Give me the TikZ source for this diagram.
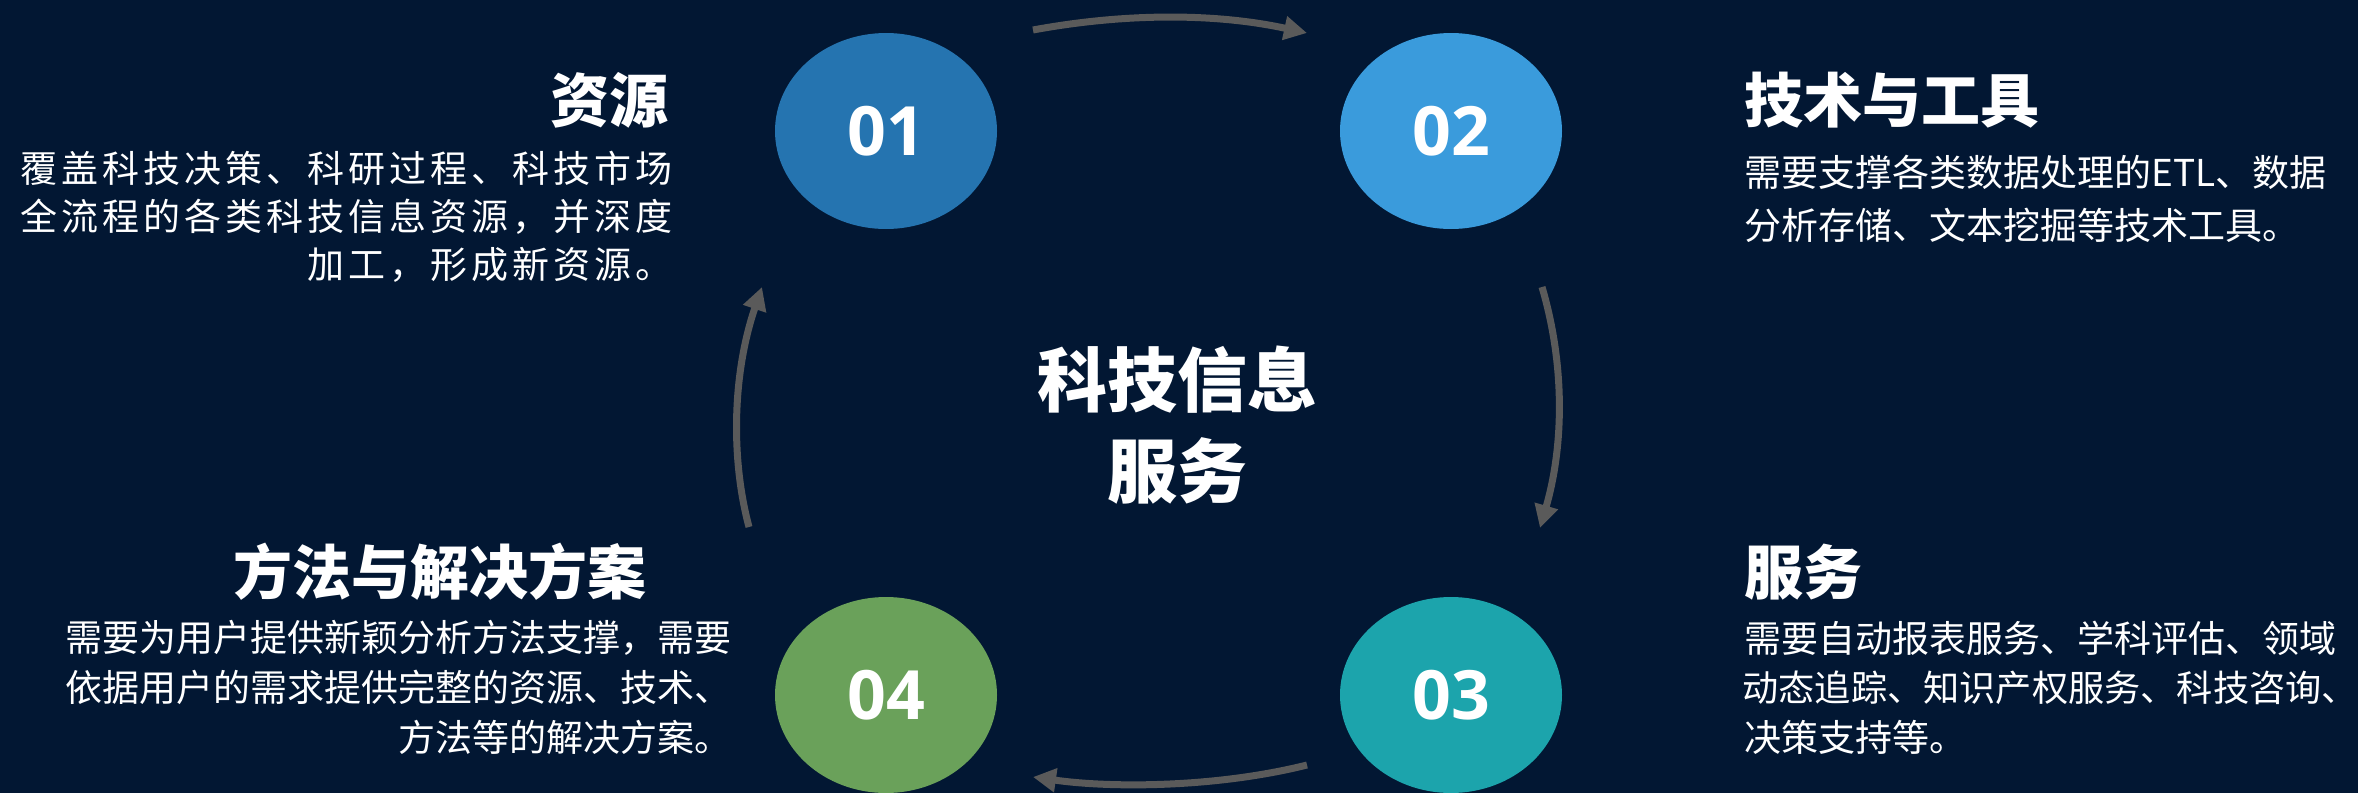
\documentclass[tikz,border=0pt]{standalone}
\usepackage{fontspec}
\usetikzlibrary{shapes.geometric,arrows.meta}
\newfontfamily\cjk{Noto Sans CJK SC}
\newfontfamily\cjkwide{Noto Sans CJK SC}[LetterSpace=10.8]
\newfontfamily\numfont{Open Sans}
\definecolor{bgc}{HTML}{021733}
\definecolor{arrc}{HTML}{5A5A5A}
\definecolor{cA}{HTML}{2574B0}
\definecolor{cB}{HTML}{3A9BDC}
\definecolor{cC}{HTML}{1CA4AC}
\definecolor{cD}{HTML}{6AA15A}
\tikzset{
  blob/.style={ellipse, minimum width=111pt, minimum height=98pt, inner sep=0pt, text=white, font=\numfont\bfseries\fontsize{34pt}{40pt}\selectfont},
  ttl/.style={inner sep=0pt, text=white, font=\cjk\bfseries\fontsize{29.5pt}{34pt}\selectfont},
  bodytxt/.style={inner sep=0pt, text=white, font=\cjk\fontsize{18.5pt}{24pt}\selectfont},
  bodytight/.style={inner sep=0pt, text=white, font=\cjk\fontsize{18.1pt}{24pt}\selectfont},
  bodywide/.style={inner sep=0pt, text=white, font=\cjkwide\fontsize{18.5pt}{24pt}\selectfont},
  centre/.style={inner sep=0pt, text=white, align=center, font=\cjk\bfseries\fontsize{35pt}{45.5pt}\selectfont},
  flow/.style={draw=arrc, line width=3.5pt, -{Triangle[length=11.5pt,width=11.5pt]}}
}
\begin{document}
\begin{tikzpicture}[x=0.5pt,y=-0.5pt]
\fill[bgc] (0,0) rectangle (2358,793);
\useasboundingbox (0,0) rectangle (2358,793);
% circles
\node[blob, fill=cA] (n1) at (886,131) {01};
\node[blob, fill=cB] (n2) at (1451,131) {02};
\node[blob, fill=cC] (n3) at (1451,695) {03};
\node[blob, fill=cD] (n4) at (886,695) {04};
% centre
\node[centre] (mid) at (1177,425) {科技信息\\服务};
% 01
\node[ttl, anchor=east] (t1) at (669,100) {资源};
\node[bodywide, anchor=east] (b1a) at (673,168) {覆盖科技决策、科研过程、科技市场};
\node[bodywide, anchor=east] (b1b) at (673,217) {全流程的各类科技信息资源，并深度};
\node[bodywide, anchor=east] (b1c) at (673,265) {加工，形成新资源。};
% 02
\node[ttl, anchor=west] (t2) at (1744,100) {技术与工具};
\node[bodytxt, anchor=west] (b2a) at (1744,172) {需要支撑各类数据处理的ETL、数据};
\node[bodytxt, anchor=west] (b2b) at (1744,225) {分析存储、文本挖掘等技术工具。};
% 03
\node[ttl, anchor=west] (t3) at (1744,572) {服务};
\node[bodytxt, anchor=west] (b3a) at (1744,638) {需要自动报表服务、学科评估、领域};
\node[bodytight, anchor=west] (b3b) at (1742,688) {动态追踪、知识产权服务、科技咨询、};
\node[bodytxt, anchor=west] (b3c) at (1744,737) {决策支持等。};
% 04
\node[ttl, anchor=east] (t4) at (647,572) {方法与解决方案};
\node[bodytxt, anchor=east] (b4a) at (732,638) {需要为用户提供新颖分析方法支撑，需要};
\node[bodytxt, anchor=east] (b4b) at (732,687) {依据用户的需求提供完整的资源、技术、};
\node[bodytxt, anchor=east] (b4c) at (732,737) {方法等的解决方案。};
% arrow ends
\coordinate (a1s) at (1033,30);
\coordinate (a1e) at (1307,33);
\coordinate (a2s) at (1542,287);
\coordinate (a2e) at (1540,528);
\coordinate (a3s) at (1307,765);
\coordinate (a3e) at (1033,777);
\coordinate (a4s) at (749,527);
\coordinate (a4e) at (762,287);
\draw[flow] (a1s) .. controls (1125,13) and (1215,13) .. (a1e);
\draw[flow] (a2s) .. controls (1565,365) and (1564,445) .. (a2e);
\draw[flow] (a3s) .. controls (1215,788) and (1110,788) .. (a3e);
\draw[flow] (a4s) .. controls (731,460) and (732,375) .. (a4e);
\end{tikzpicture}
\end{document}
